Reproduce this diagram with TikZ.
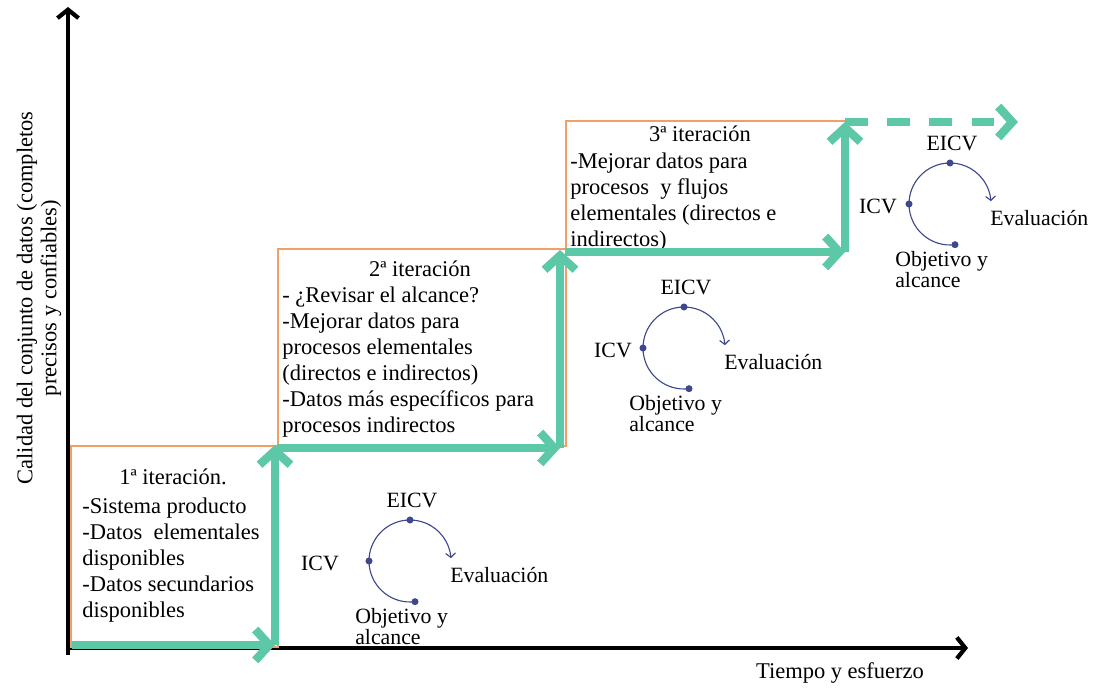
\documentclass[tikz,border=0pt]{standalone}
\usepackage{fontspec}
\setmainfont{Liberation Serif}
\usetikzlibrary{arrows.meta, positioning, calc}
\usepackage{xcolor}

\definecolor{stepgreen}{RGB}{92,200,168}
\definecolor{boxorange}{RGB}{240,160,100}
\definecolor{cyclenavy}{RGB}{62,72,140}

\begin{document}
\begin{tikzpicture}[
    x=0.025cm, y=0.025cm,
    iterbox/.style = {rectangle, draw=boxorange, line width=1.2pt, inner sep=0pt, anchor=south west},
    itertitle/.style = {anchor=base, inner sep=0pt, font=\fontsize{16}{18.5}\selectfont},
    itertext/.style = {anchor=north west, inner sep=0pt, align=left, font=\fontsize{16}{18.5}\selectfont},
    axisline/.style = {draw=black, line width=3pt, -{Straight Barb[length=6pt,width=15pt]}},
    axislabel/.style = {inner sep=0pt, font=\fontsize{16}{17}\selectfont},
    stepline/.style = {draw=stepgreen, line width=6pt, -{Straight Barb[length=10pt,width=22pt]}},
    cyclearc/.style = {draw=cyclenavy, line width=0.8pt, -{Straight Barb[length=3pt,width=7pt]}},
    cycledot/.style = {circle, fill=cyclenavy, inner sep=0pt, minimum size=5pt},
    cyclelabel/.style = {inner sep=0pt, font=\fontsize{15.5}{18}\selectfont}
]
\useasboundingbox (0,0) rectangle (1093,688);

% Axes
\coordinate (o_y) at (68,33);
\coordinate (top_y) at (68,681);
\coordinate (o_x) at (66,40);
\coordinate (end_x) at (968,40);
\draw [axisline] (o_y) -- (top_y);
\draw [axisline] (o_x) -- (end_x);

\node (ylab) [axislabel, rotate=90, align=center] at (39,390) {Calidad del conjunto de datos (completos\\precisos y confiables)};
\node (xlab) [axislabel] at (840,15) {Tiempo y esfuerzo};

% Boxes
\node (box1) [iterbox, minimum width=5.175cm, minimum height=5.025cm] at (70,40) {};
\node (box2) [iterbox, minimum width=7.2cm, minimum height=4.925cm] at (277,241) {};
\node (box3) [iterbox, minimum width=7cm, minimum height=3.2cm] at (565,438) {};

\node (t1) [itertitle] at (173,203) {1ª iteración.};
\node (b1) [itertext] at (82,190) {-Sistema producto\\-Datos\ \ elementales\\disponibles\\-Datos secundarios\\disponibles};

\node (t2) [itertitle] at (420,411) {2ª iteración};
\node (b2) [itertext] at (282,401) {- ¿Revisar el alcance?\\-Mejorar datos para\\procesos elementales\\(directos e indirectos)\\-Datos más específicos para\\procesos indirectos};

\node (t3) [itertitle] at (700,546) {3ª iteración};
\node (b3) [itertext] at (570,535) {-Mejorar datos para\\procesos\ \ y flujos\\elementales (directos e\\indirectos)};

% Steps
\coordinate (s0) at (72,43);
\coordinate (s1) at (275,43);
\coordinate (s2) at (275,243);
\coordinate (s3) at (277,240);
\coordinate (s4) at (560,240);
\coordinate (s5) at (560,438);
\coordinate (s6) at (565,436);
\coordinate (s7) at (845,436);
\coordinate (s8) at (845,566);
\coordinate (s9) at (1018,566);
\draw [stepline] (s0) -- (s1);
\draw [stepline] (s1) -- (s2);
\draw [stepline] (s3) -- (s4);
\draw [stepline] (s4) -- (s5);
\draw [stepline] (s6) -- (s7);
\draw [stepline] (s7) -- (s8);
\draw [stepline, dash pattern=on 16pt off 14pt] (s8) -- (s9);

% Cycles
\foreach \cx/\cy/\icv [count=\i] in {410/127/-90, 684/340/-71, 950/484/-72} {
  \coordinate (c\i) at (\cx,\cy);
  \draw [cyclearc] ($(c\i)+(277:41)$) arc[start angle=277, end angle=4, radius=41];
  \node (dobj\i) [cycledot] at ($(c\i)+(277:41)$) {};
  \node (dicv\i) [cycledot] at ($(c\i)+(180:41)$) {};
  \node (deicv\i) [cycledot] at ($(c\i)+(90:41)$) {};
  \node (eicv\i) [cyclelabel] at ($(c\i)+(2,61)$) {EICV};
  \node (icv\i) [cyclelabel] at ($(c\i)+(\icv,-2)$) {ICV};
  \node (eval\i) [cyclelabel, anchor=west] at ($(c\i)+(40,-14)$) {Evaluación};
  \node (obj\i) [cyclelabel, anchor=north west, align=left, font=\fontsize{15.5}{10.5}\selectfont] at ($(c\i)+(-55,-47)$) {Objetivo y\\alcance};
}

\end{tikzpicture}
\end{document}
